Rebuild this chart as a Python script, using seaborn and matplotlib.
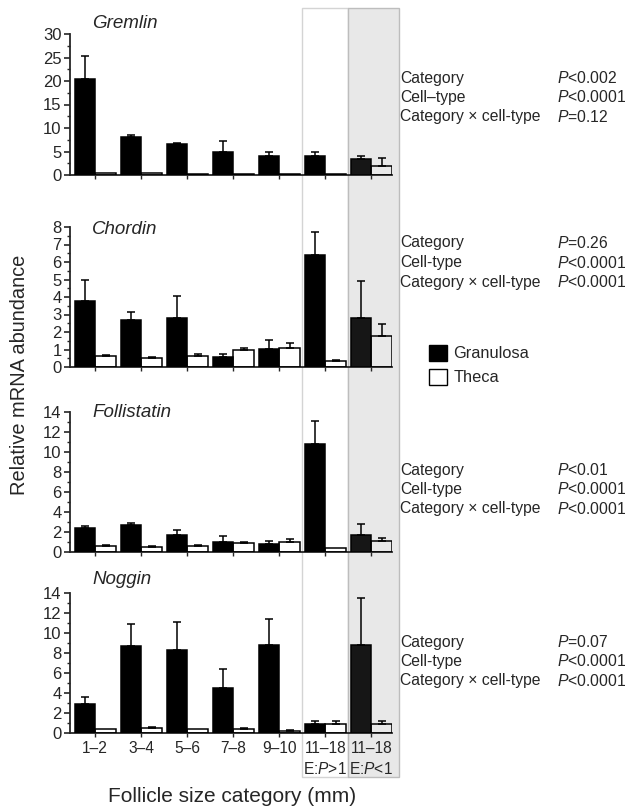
import numpy as np
import pandas as pd
import matplotlib
matplotlib.use("Agg")
import matplotlib.pyplot as plt
from matplotlib.patches import Rectangle
from matplotlib.ticker import MultipleLocator
from matplotlib.transforms import blended_transform_factory
import seaborn as sns

# Data
categories = ["1–2", "3–4", "5–6", "7–8", "9–10", "11–18\nE:$P$>1", "11–18\nE:$P$<1"]
cell_types = ["Granulosa", "Theca"]

gremlin_g = [20.5, 8.0, 6.5, 4.9, 4.1, 4.1, 3.4]
gremlin_g_err = [4.9, 0.6, 0.4, 2.4, 0.7, 0.7, 0.6]
gremlin_t = [0.4, 0.4, 0.3, 0.2, 0.3, 0.2, 1.9]
gremlin_t_err = [0.0, 0.0, 0.0, 0.0, 0.0, 0.0, 1.7]

chordin_g = [3.8, 2.7, 2.8, 0.6, 1.05, 6.4, 2.8]
chordin_g_err = [1.2, 0.45, 1.25, 0.15, 0.5, 1.3, 2.1]
chordin_t = [0.62, 0.5, 0.62, 0.95, 1.1, 0.33, 1.8]
chordin_t_err = [0.06, 0.05, 0.1, 0.15, 0.28, 0.05, 0.65]

follistatin_g = [2.45, 2.75, 1.75, 1.05, 0.8, 10.8, 1.7]
follistatin_g_err = [0.15, 0.15, 0.45, 0.55, 0.35, 2.3, 1.1]
follistatin_t = [0.6, 0.5, 0.6, 0.9, 1.0, 0.4, 1.1]
follistatin_t_err = [0.15, 0.15, 0.08, 0.08, 0.28, 0.0, 0.35]

noggin_g = [2.95, 8.75, 8.35, 4.5, 8.85, 0.9, 8.85]
noggin_g_err = [0.65, 2.2, 2.8, 1.95, 2.6, 0.33, 4.65]
noggin_t = [0.45, 0.5, 0.4, 0.45, 0.25, 0.95, 0.9]
noggin_t_err = [0.0, 0.1, 0.0, 0.1, 0.05, 0.25, 0.3]

genes = ["Gremlin", "Chordin", "Follistatin", "Noggin"]
gene_values = [(gremlin_g, gremlin_g_err, gremlin_t, gremlin_t_err),
               (chordin_g, chordin_g_err, chordin_t, chordin_t_err),
               (follistatin_g, follistatin_g_err, follistatin_t, follistatin_t_err),
               (noggin_g, noggin_g_err, noggin_t, noggin_t_err)]
y_max = [30, 8, 14, 14]
y_major = [5, 1, 2, 2]

stat_names = [["Category", "Cell–type", "Category × cell-type"],
              ["Category", "Cell-type", "Category × cell-type"],
              ["Category", "Cell-type", "Category × cell-type"],
              ["Category", "Cell-type", "Category × cell-type"]]
stat_p = [["$P$<0.002", "$P$<0.0001", "$P$=0.12"],
          ["$P$=0.26", "$P$<0.0001", "$P$<0.0001"],
          ["$P$<0.01", "$P$<0.0001", "$P$<0.0001"],
          ["$P$=0.07", "$P$<0.0001", "$P$<0.0001"]]

sns.set_style("ticks")
plt.rcParams["font.family"] = ["Liberation Sans", "DejaVu Sans"]
plt.rcParams["mathtext.fontset"] = "custom"
plt.rcParams["mathtext.rm"] = "Liberation Sans"
plt.rcParams["mathtext.it"] = "Liberation Sans:italic"

W, H = 628, 809
fig = plt.figure(figsize=(W / 100, H / 100), dpi=100)

# axes geometry in pixels: (top of y range, zero line)
panel_px = [(34, 175), (227, 367), (412, 552), (593, 733)]
title_px = [24, 229, 413, 580]
stats_px = [78, 243, 470, 642]
ax_left, ax_right = 70, 392

axes = []
for i, gene in enumerate(genes):
    top, bot = panel_px[i]
    ax = fig.add_axes([ax_left / W, 1 - bot / H, (ax_right - ax_left) / W, (bot - top) / H])
    ax.set_facecolor("none")
    g, ge, t, te = gene_values[i]
    df = pd.DataFrame({
        "cat": categories * 2,
        "cell": ["Granulosa"] * 7 + ["Theca"] * 7,
        "val": g + t,
    })
    sns.barplot(data=df, x="cat", y="val", hue="cell", order=categories,
                hue_order=cell_types, palette={"Granulosa": "black", "Theca": "white"},
                edgecolor="black", linewidth=1.1, width=0.9, errorbar=None,
                legend=False, ax=ax, zorder=3)
    # theca bars see-through so the shaded box shows in them
    for bar in ax.containers[1]:
        bar.set_facecolor("none")
    ax.containers[0][6].set_facecolor("#161616")
    # upward-only error bars
    for cont, errs in zip(ax.containers, [ge, te]):
        for bar, e in zip(cont, errs):
            if e <= 0:
                continue
            xc = bar.get_x() + bar.get_width() / 2
            ax.errorbar(xc, bar.get_height(), yerr=[[0], [e]], fmt="none",
                        ecolor="black", elinewidth=1.1, capsize=3, capthick=1.1, zorder=4)
    ax.set_xlim(-0.55, 6.45)
    ax.set_ylim(0, y_max[i])
    ax.yaxis.set_major_locator(MultipleLocator(y_major[i]))
    ax.yaxis.set_minor_locator(MultipleLocator(y_major[i] / 2))
    sns.despine(ax=ax)
    ax.spines["left"].set_linewidth(1.3)
    ax.spines["bottom"].set_linewidth(1.3)
    ax.tick_params(axis="y", which="major", length=4, width=1.2, labelsize=12, pad=2)
    ax.tick_params(axis="y", which="minor", length=2.5, width=1.0)
    ax.tick_params(axis="x", length=3, width=1.0, labelsize=11.2, pad=3)
    ax.set_xlabel("")
    ax.set_ylabel("")
    if i < 3:
        ax.set_xticklabels([])
    else:
        ax.set_xticklabels(categories, linespacing=1.35)
    ax.text(92 / W, 1 - title_px[i] / H, gene, transform=fig.transFigure,
            fontsize=13.5, style="italic", va="center", ha="left")
    for k in range(3):
        yk = 1 - (stats_px[i] + 19.5 * k) / H
        fig.text(400 / W, yk, stat_names[i][k], fontsize=11.3, va="center", ha="left")
        fig.text(557 / W, yk, stat_p[i][k], fontsize=11.3, va="center", ha="left")
    axes.append(ax)

# shaded columns spanning all panels
tr = blended_transform_factory(axes[-1].transData, fig.transFigure)
y0, y1 = 1 - 777 / H, 1 - 8 / H
fig.add_artist(Rectangle((4.49, y0), 1.0, y1 - y0, transform=tr, facecolor="white",
                         edgecolor="#d4d4d4", linewidth=1.0, zorder=-2))
fig.add_artist(Rectangle((5.49, y0), 1.12, y1 - y0, transform=tr, facecolor="#e8e8e8",
                         edgecolor="#bdbdbd", linewidth=1.0, zorder=-1))

# legend
handles = [Rectangle((0, 0), 1, 1, facecolor="black", edgecolor="black"),
           Rectangle((0, 0), 1, 1, facecolor="white", edgecolor="black")]
fig.legend(handles, cell_types, loc="upper left", bbox_to_anchor=(429 / W, 1 - 345 / H),
           frameon=False, fontsize=11.8, handlelength=1.1, handleheight=1.1,
           handletextpad=0.4, labelspacing=0.45, borderpad=0, borderaxespad=0)

fig.text(20 / W, 1 - 375 / H, "Relative mRNA abundance", rotation=90,
         fontsize=14.4, va="center", ha="center")
fig.text(232 / W, 1 - 797 / H, "Follicle size category (mm)",
         fontsize=15, va="center", ha="center")

fig.savefig("out.png", dpi=100)
